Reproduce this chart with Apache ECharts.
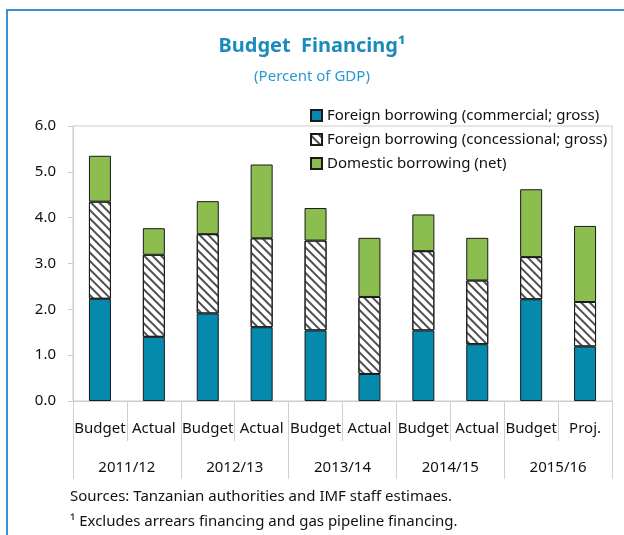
<!DOCTYPE html>
<html><head><meta charset="utf-8">
<script src="https://cdn.jsdelivr.net/npm/echarts@6/dist/echarts.min.js"></script>
<style>html,body{margin:0;padding:0;background:#fff}#c{width:624px;height:535px}</style>
</head><body><div id="c"></div>
<script>
var categories = ['Budget','Actual','Budget','Actual','Budget','Actual','Budget','Actual','Budget','Proj.'];
var years = ['2011/12','2012/13','2013/14','2014/15','2015/16'];
var commercial = [2.23,1.40,1.91,1.61,1.54,0.59,1.54,1.24,2.22,1.19];
var concessional = [2.12,1.79,1.73,1.94,1.96,1.68,1.73,1.39,0.92,0.97];
var domestic = [1.00,0.58,0.72,1.61,0.71,1.29,0.80,0.93,1.48,1.66];
var seriesNames = ['Foreign borrowing (commercial; gross)','Foreign borrowing (concessional; gross)','Domestic borrowing (net)'];
var yTicks = {min:0, max:6, interval:1};

var FONT = 'Noto Sans';
var chart = echarts.init(document.getElementById('c'));
var barBase = {type:'bar', stack:'total', barWidth:22};
chart.setOption({
  animation:false,
  textStyle:{fontFamily:FONT},
  title:[{text:'Budget  Financing\u00b9', left:'center', top:31, textStyle:{fontFamily:FONT, fontSize:20, fontWeight:'bold', color:'#1a8bbb'}},
         {text:'(Percent of GDP)', left:'center', top:64, textStyle:{fontFamily:FONT, fontSize:15, fontWeight:'normal', color:'#2b98cf'}}],
  legend:{orient:'vertical', left:305, top:103, itemWidth:11, itemHeight:11, itemGap:9, icon:'rect',
    textStyle:{fontFamily:FONT, fontSize:15, color:'#111'}, data:seriesNames},
  grid:{left:73, right:12, top:126, bottom:134, show:true, borderColor:'#cccccc', borderWidth:1},
  xAxis:[{type:'category', data:categories, position:'bottom',
      axisLine:{lineStyle:{color:'#cccccc'}},
      axisTick:{show:true, length:40, interval:0, lineStyle:{color:'#d0d0d0'}},
      axisLabel:{interval:0, margin:20, fontSize:15, color:'#111', fontFamily:FONT}},
    {type:'category', data:years, position:'bottom', gridIndex:0,
      axisLine:{show:false},
      axisTick:{show:true, length:78, interval:0, lineStyle:{color:'#d0d0d0'}},
      axisLabel:{interval:0, margin:59, fontSize:15, color:'#111', fontFamily:FONT}}],
  yAxis:{type:'value', min:yTicks.min, max:yTicks.max, interval:yTicks.interval,
    axisLine:{show:true, lineStyle:{color:'#cccccc'}},
    axisTick:{show:true, length:5, lineStyle:{color:'#cccccc'}},
    splitLine:{show:false},
    axisLabel:{margin:17, fontSize:15, color:'#111', fontFamily:FONT, formatter:function(v){return v.toFixed(1);}}},
  series:[
    Object.assign({}, barBase, {name:seriesNames[0], data:commercial, itemStyle:{color:'#0589ad', borderColor:'#1a1a1a', borderWidth:1}}),
    Object.assign({}, barBase, {name:seriesNames[1], data:concessional, itemStyle:{color:'#ffffff', borderColor:'#1a1a1a', borderWidth:1,
      decal:{symbol:'rect', symbolSize:1, dashArrayX:[[1,0]], dashArrayY:[1.2,3.3], rotation:Math.PI/4, color:'#505050'}}}),
    Object.assign({}, barBase, {name:seriesNames[2], data:domestic, itemStyle:{color:'#8bbd4f', borderColor:'#1a1a1a', borderWidth:1}})
  ],
  graphic:[
    {type:'rect', shape:{x:7, y:10, width:700, height:600}, style:{fill:'none', stroke:'#3d8fd3', lineWidth:2}, silent:true},
    {type:'text', left:70, top:489, style:{text:'Sources: Tanzanian authorities and IMF staff estimaes.', fontFamily:FONT, fontSize:15, fill:'#111'}},
    {type:'text', left:70, top:514, style:{text:'\u00b9 Excludes arrears financing and gas pipeline financing.', fontFamily:FONT, fontSize:15, fill:'#111'}}
  ]
});
</script></body></html>
